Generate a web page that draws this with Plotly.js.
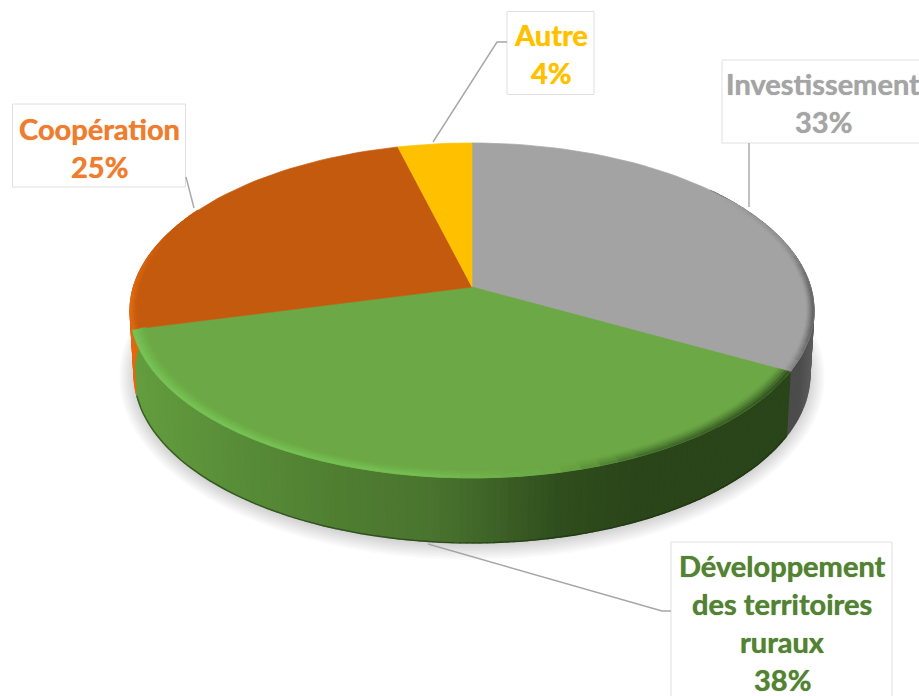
<!DOCTYPE html>
<html>
<head>
<meta charset="utf-8">
<script src="https://cdn.plot.ly/plotly-3.0.1.min.js"></script>
<style>html,body{margin:0;padding:0;background:#fff;overflow:hidden}</style>
</head>
<body>
<div id="chart" style="width:919px;height:696px"></div>
<script>
// Data, clockwise from 12 o'clock
const categories = ['Investissement', 'Développement des territoires ruraux', 'Coopération', 'Autre'];
const values = [33, 38, 25, 4];
const labelLines = [['Investissement'], ['Développement', 'des territoires', 'ruraux'], ['Coopération'], ['Autre']];
const faceColors = ['#a3a3a3', '#6ca845', '#c45a0e', '#ffc000'];
const textColors = ['#a5a5a5', '#548235', '#ed7d31', '#ffc000'];

// Label boxes [x0, y0, x1, y1], first text line centre
const boxes = [[722, 60, 930, 143], [671, 542, 892, 710], [12.5, 104, 185.5, 187], [507, 11.5, 594, 94.5]];
const textAnchors = [[823, 83], [782, 565], [99, 128], [551, 34]];
const lineStep = 38;
const leaders = [
  [[749, 143], [749, 207]],
  [[428, 544], [662, 611], [671, 611]],
  [[186, 177], [194, 208]],
  [[433, 142], [497, 42], [507, 42]]
];

// Perspective disc
const CX = 472, CY = 287, K = 0.14, A = 164.2, B = 338.6;
const EY = 310, ERX = 342, ERY = 167;
const BY = 374, BRX = 338, BRY = 168;
function topPt(deg, r) {
  const t = deg * Math.PI / 180, u = r * Math.sin(t), v = r * Math.cos(t), d = 1 + K * v;
  return [CX + B * u / d, CY - A * v / d];
}
function botPt(deg) {
  const p = topPt(deg, 1);
  return [CX + BRX * (p[0] - CX) / ERX, BY + BRY * (p[1] - EY) / ERY];
}
function hex(c) { return [1, 3, 5].map(i => parseInt(c.substr(i, 2), 16)); }
function mix(a, b, f) {
  const x = hex(a), y = hex(b);
  return '#' + x.map((v, i) => Math.round(v + (y[i] - v) * f).toString(16).padStart(2, '0')).join('');
}
function ramp(stops, x) {
  if (x <= stops[0][0]) return stops[0][1];
  for (let i = 1; i < stops.length; i++) {
    if (x <= stops[i][0]) return mix(stops[i - 1][1], stops[i][1], (x - stops[i - 1][0]) / (stops[i][0] - stops[i - 1][0]));
  }
  return stops[stops.length - 1][1];
}
const total = values.reduce((a, b) => a + b, 0);
const edges = [0];
values.forEach(v => edges.push(edges[edges.length - 1] + v / total * 360));

const traces = [];
function poly(pts, fill, w) {
  traces.push({
    type: 'scatter', mode: 'lines', x: pts.map(p => p[0]), y: pts.map(p => p[1]),
    fill: 'toself', fillcolor: fill, line: { color: fill, width: w || 0.7 },
    hoverinfo: 'skip', showlegend: false
  });
}

// Soft shadow under the disc
for (let s = 0; s < 12; s++) {
  const pts = [];
  for (let a = 0; a <= 360; a += 4) {
    const t = a * Math.PI / 180;
    pts.push([CX + (BRX + 15 - s * 1.5) * Math.sin(t), BY + 3 + (BRY + 15 - s * 1.5) * Math.cos(t)]);
  }
  traces.push({ type: 'scatter', mode: 'lines', x: pts.map(p => p[0]), y: pts.map(p => p[1]), fill: 'toself',
    fillcolor: 'rgba(60,60,60,0.02)', line: { width: 0 }, hoverinfo: 'skip', showlegend: false });
}

// Side wall
const sideRamps = [
  [[0, '#555555'], [800, '#4c4c4c'], [815, '#5e5e5e']],
  [[130, '#649e3f'], [240, '#588c38'], [340, '#4f7e31'], [430, '#4a742f'], [500, '#3c6026'], [560, '#2f4d1d'], [640, '#2a4519']],
  [[0, '#e0690f'], [919, '#e0690f']]
];
const sideSpans = [[50, edges[1]], [edges[1], edges[2]], [edges[2], 300]];
sideSpans.forEach((sp, i) => {
  const step = 1;
  for (let a = sp[0]; a < sp[1] - 1e-6; a += step) {
    const b = Math.min(a + step, sp[1]);
    const p0 = topPt(a, 1), p1 = topPt(b, 1), q1 = botPt(b), q0 = botPt(a);
    poly([p0, p1, q1, q0, p0], ramp(sideRamps[i], (p0[0] + p1[0]) / 2), 1.2);
  }
});
// Dark lower edge of the green wall
const lowEdge = [];
for (let a = edges[1]; a <= edges[2]; a += 2) lowEdge.push(botPt(a));
traces.push({ type: 'scatter', mode: 'lines', x: lowEdge.map(p => p[0]), y: lowEdge.map(p => p[1]),
  line: { color: 'rgba(25,45,15,0.55)', width: 1.5 }, hoverinfo: 'skip', showlegend: false });

// Faces
values.forEach((v, i) => {
  const pts = [[CX, CY]];
  for (let a = edges[i]; a < edges[i + 1]; a += 2) pts.push(topPt(a, 1));
  pts.push(topPt(edges[i + 1], 1), [CX, CY]);
  poly(pts, faceColors[i]);
});

// Rounded rim of the faces
const rimRamps = [
  [[720, '#a3a3a3'], [790, '#8a8a8a'], [815, '#5a5a5a']],
  [[130, '#78c658'], [420, '#76c254'], [500, '#6fb04a'], [560, '#6ca845'], [640, '#3f6a2a'], [790, '#2d4a1c']],
  [[130, '#e36c10'], [165, '#c45a0e']]
];
const rimSpans = [[55, edges[1]], [edges[1], edges[2]], [edges[2], 300]];
const rimWidths = [0.022, 0.04, 0.02];
const bands = 5;
rimSpans.forEach((sp, i) => {
  const step = 3, rimWidth = rimWidths[i];
  for (let a = sp[0]; a < sp[1] - 1e-6; a += step) {
    const b = Math.min(a + step, sp[1]);
    for (let j = 0; j < bands; j++) {
      const r0 = 1 - rimWidth * (1 - j / bands), r1 = 1 - rimWidth * (1 - (j + 1) / bands);
      const x = topPt((a + b) / 2, 1)[0];
      const f = Math.pow((j + 0.5) / bands, 1.2);
      poly([topPt(a, r0), topPt(b, r0), topPt(b, r1), topPt(a, r1), topPt(a, r0)], mix(faceColors[i], ramp(rimRamps[i], x), f));
    }
  }
});

const fontFamily = 'Lato, Carlito, Calibri, sans-serif';
const annotations = [];
const shapes = [];
categories.forEach((c, i) => {
  const lines = labelLines[i].concat([Math.round(values[i] / total * 100) + '%']);
  lines.forEach((t, n) => annotations.push({
    x: textAnchors[i][0], y: textAnchors[i][1] + n * lineStep, xref: 'x', yref: 'y', text: t, showarrow: false,
    xanchor: 'center', yanchor: 'middle',
    font: { family: fontFamily, size: 29, color: textColors[i], weight: 700, shadow: '0 0 1px ' + textColors[i] }
  }));
  const b = boxes[i];
  shapes.push({ type: 'rect', xref: 'x', yref: 'y', x0: b[0], y0: b[1], x1: b[2], y1: b[3],
    fillcolor: '#ffffff', line: { color: '#e0e0e0', width: 1 }, layer: 'above' });
  const pts = leaders[i];
  shapes.push({ type: 'path', xref: 'x', yref: 'y',
    path: pts.map((p, k) => (k ? 'L' : 'M') + p[0] + ',' + p[1]).join(' '),
    line: { color: '#a6a6a6', width: 1.4 }, layer: 'above' });
});

Plotly.newPlot('chart', traces, {
  width: 919, height: 696,
  margin: { l: 0, r: 0, t: 0, b: 0 },
  paper_bgcolor: '#ffffff', plot_bgcolor: '#ffffff',
  showlegend: false, hovermode: false,
  xaxis: { range: [0, 919], visible: false, fixedrange: true },
  yaxis: { range: [696, 0], visible: false, fixedrange: true },
  shapes: shapes, annotations: annotations
}, { displayModeBar: false, staticPlot: true });
</script>
</body>
</html>
